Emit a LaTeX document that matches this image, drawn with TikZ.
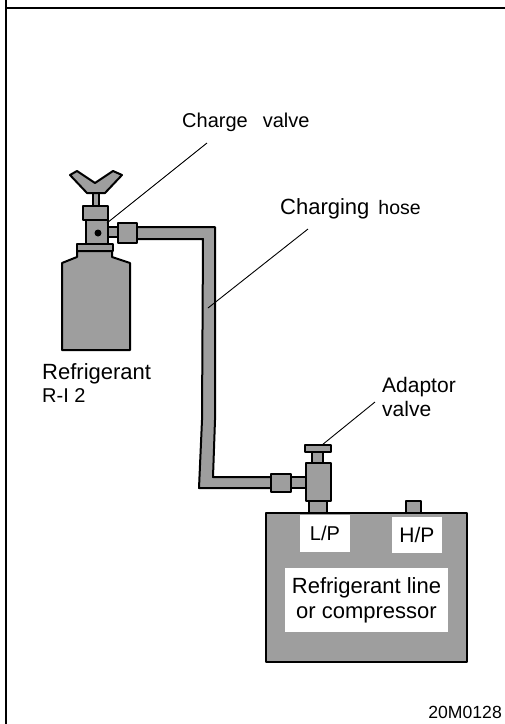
\documentclass[tikz,border=0pt]{standalone}
\usepackage{fontspec}
\setmainfont{Liberation Sans}
\definecolor{ht}{gray}{0.62}
\tikzset{
 part/.style={draw=black,line width=2pt,fill=ht,line join=round},
 lead/.style={draw=black,line width=0.9pt},
 lbl/.style={inner sep=0pt,font=\fontsize{21}{24}\selectfont,align=left,anchor=south west},
 whitelbl/.style={fill=white,inner sep=0pt,align=center},
 frame/.style={draw=black,line width=2pt}
}
\begin{document}
\begin{tikzpicture}[x=1pt,y=-1pt,line cap=butt]
\useasboundingbox (0,0) rectangle (505,724);
\fill[white] (0,0) rectangle (505,724);
% frame
\coordinate (fa) at (6,0); \coordinate (fb) at (6,724);
\coordinate (fc) at (6,8); \coordinate (fd) at (505,8);
\draw[frame] (fa)--(fb);
\draw[frame] (fc)--(fd);
% hose
\path[part] (130,227) -- (215,227) -- (215,420) -- (213,477) -- (280,477) -- (280,488) -- (199,488) -- (202,420) -- (203,239) -- (130,239) -- cycle;
% bottle
\path[part] (77,251) -- (77,257) -- (62,263) -- (62,350) -- (130,350) -- (130,263) -- (112,257) -- (112,251) -- cycle;
\path[part] (77,244) rectangle (113,251);
% valve body
\path[part] (86,220) rectangle (108,244);
\path[part] (83,206) rectangle (108,220);
\path[part] (93,193) rectangle (99,206);
\path[part] (70,175) -- (77,171) -- (95,183) -- (113,171) -- (122,175) -- (105,193) -- (87,193) -- cycle;
\path[part] (108,227) rectangle (118,237);
\path[part] (118,223) rectangle (137,243);
\fill[black] (98,233) circle (3.5);
% adaptor valve
\path[part] (305,445) rectangle (331,452);
\path[part] (312,452) rectangle (323,463);
\path[part] (309,501) rectangle (327,513);
\path[part] (290,477) rectangle (306,488);
\path[part] (271,474) rectangle (291,492);
\path[part] (306,463) rectangle (331,501);
% compressor box
\path[part] (406,501) rectangle (421,513);
\path[part] (266,513) rectangle (467,662);
\node[whitelbl,minimum width=50pt,minimum height=37pt,font=\fontsize{20}{24}\selectfont] (lp) at (325,533.5) {\raisebox{-2pt}{L/P}};
\node[whitelbl,minimum width=50pt,minimum height=36pt,font=\fontsize{21}{24}\selectfont] (hp) at (417,535) {H/P};
\node[whitelbl,minimum width=163pt,minimum height=64pt,font=\fontsize{22}{25}\selectfont] (rl) at (366.5,600) {Refrigerant line\\or compressor};
% labels
\node[lbl,font=\fontsize{20}{24}\selectfont] (cv) at (182,132) {Charge\hspace{15pt}valve};
\node[lbl,font=\fontsize{22}{24}\selectfont] (ch) at (280,219) {Charging\hspace{9pt}{\fontsize{19.5}{24}\selectfont hose}};
\node[lbl,font=\fontsize{22}{23}\selectfont] (re) at (42,403) {Refrigerant\\{\fontsize{20}{23}\selectfont R-I 2}};
\node[lbl] (ad) at (382,417) {Adaptor\\valve};
\node[lbl,anchor=base east,font=\fontsize{17.6}{20}\selectfont] (code) at (502,718) {20M0128};
% leaders
\coordinate (a1) at (207,143); \coordinate (b1) at (107,223);
\coordinate (a2) at (308,229); \coordinate (b2) at (208,308);
\coordinate (a3) at (375,402); \coordinate (b3) at (322,445);
\draw[lead] (a1) -- (b1);
\draw[lead] (a2) -- (b2);
\draw[lead] (a3) -- (b3);
\end{tikzpicture}
\end{document}
